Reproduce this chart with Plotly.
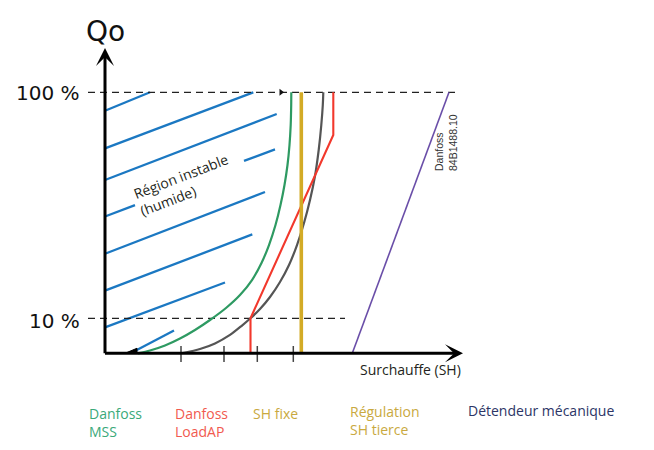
import math
import plotly.graph_objects as go

# ---------------- data ----------------
# x = superheat (SH, schematic units), y = Qo in % (log axis)
hatch_sh = [[0, 45], [0, 148.3], [0, 171.7], [139, 170], [0, 30],
            [0, 160], [0, 147.3], [0, 120], [28, 69]]
hatch_q = [[82.9, 100], [56.5, 100], [40.9, 80.2], [49.7, 55.9], [28.2, 31.7],
           [19.3, 36.2], [13.25, 23.5], [9.12, 14.4], [7.10, 8.83]]

mss_sh = [33, 45, 60, 75, 90, 105, 121, 135, 147, 156.5, 164, 170.5, 175.5,
          179.5, 182.5, 184.5, 185.7, 186.2, 186.3]
mss_q = [7.0, 7.2, 7.58, 8.14, 8.88, 9.83, 11.11, 12.68, 14.77, 17.57, 21.1,
         25.87, 31.72, 38.89, 47.68, 58.47, 71.68, 87.87, 100]

tierce_sh = [78, 95, 110, 125, 137, 145.5, 155, 165, 175, 184, 192, 199, 205,
             210, 213.7, 216.3, 217.8, 218.3]
tierce_q = [7.02, 7.31, 7.74, 8.44, 9.29, 10.0, 10.99, 12.42, 14.47, 17.21,
            21.1, 26.41, 33.38, 42.62, 55.55, 71.68, 87.87, 100]

loadap_sh = [145.5, 145.5, 228.3, 228.3]
loadap_q = [7.0, 10.0, 64.7, 100]

fixe_sh = [196.3, 196.3]
fixe_q = [7.0, 100]

meca_sh = [247.3, 344]
meca_q = [7.0, 100]

ref_q = [100, 10]
ref_end_sh = [352, 240]
ref_labels = ["100 %", "10 %"]

tick_sh = [76, 119, 152.3, 188.3]

legend_labels = ["Danfoss<br>MSS", "Danfoss<br>LoadAP", "SH fixe",
                 "Régulation<br>SH tierce", "Détendeur mécanique"]

# ---------------- styles ----------------
BLUE = "#1b78c2"
GREEN = "#2e9a62"
GREY = "#555555"
RED = "#f2382c"
GOLD = "#d3ab26"
PURPLE = "#6a4ea8"

fig = go.Figure()

# hatching of unstable region
for xs, ys in zip(hatch_sh, hatch_q):
    fig.add_trace(go.Scatter(x=xs, y=ys, mode="lines",
                             line=dict(color=BLUE, width=2.3), hoverinfo="skip"))

# reference dashed lines
for q, xe in zip(ref_q, ref_end_sh):
    fig.add_trace(go.Scatter(x=[-17, xe], y=[q, q], mode="lines",
                             line=dict(color="#222222", width=1.3, dash="7px,5px"),
                             hoverinfo="skip"))
fig.add_trace(go.Scatter(x=[176], y=[100], mode="markers",
                         marker=dict(symbol="triangle-right", size=6, color="#111111"),
                         hoverinfo="skip"))

fig.add_trace(go.Scatter(x=meca_sh, y=meca_q, mode="lines",
                         line=dict(color=PURPLE, width=1.6), hoverinfo="skip"))
fig.add_trace(go.Scatter(x=mss_sh, y=mss_q, mode="lines",
                         line=dict(color=GREEN, width=2.2, shape="spline", smoothing=0.8),
                         hoverinfo="skip"))
fig.add_trace(go.Scatter(x=tierce_sh, y=tierce_q, mode="lines",
                         line=dict(color=GREY, width=2.2, shape="spline", smoothing=0.8),
                         hoverinfo="skip"))
fig.add_trace(go.Scatter(x=loadap_sh, y=loadap_q, mode="lines",
                         line=dict(color=RED, width=2.1), hoverinfo="skip"))
fig.add_trace(go.Scatter(x=fixe_sh, y=fixe_q, mode="lines",
                         line=dict(color=GOLD, width=3.6), hoverinfo="skip"))

# tick marks on the SH axis
tx, ty = [], []
for t in tick_sh:
    tx += [t, t, None]
    ty += [6.41, 7.54, None]
fig.add_trace(go.Scatter(x=tx, y=ty, mode="lines",
                         line=dict(color="#444444", width=1.5), hoverinfo="skip"))

# small black wedge near origin
fig.add_trace(go.Scatter(x=[20, 32, 32, 20], y=[7.0, 7.37, 7.0, 7.0], mode="lines",
                         fill="toself", fillcolor="#000000",
                         line=dict(color="#000000", width=1), hoverinfo="skip"))

L = math.log10
ann = []
# axes arrows
ann.append(dict(x=358, y=L(7.0), ax=-1.5, ay=L(7.0), xref="x", yref="y",
                axref="x", ayref="y", text="", showarrow=True, arrowhead=3,
                arrowsize=1, arrowwidth=3, arrowcolor="#000000", standoff=0))
ann.append(dict(x=0, y=L(157), ax=0, ay=L(6.9), xref="x", yref="y",
                axref="x", ayref="y", text="", showarrow=True, arrowhead=3,
                arrowsize=1, arrowwidth=3, arrowcolor="#000000", standoff=0))

W, H = 654, 450


def px(xp, yp):
    return xp / W, 1 - yp / H


x, y = px(105, 31)
ann.append(dict(x=x, y=y, xref="paper", yref="paper", text="Qo", showarrow=False,
                font=dict(family="DejaVu Sans", size=28, color="#111111"),
                xanchor="center", yanchor="middle"))
for lab, yp in zip(ref_labels, [93, 321]):
    x, y = px(82, yp)
    ann.append(dict(x=x, y=y, xref="paper", yref="paper", text=lab, showarrow=False,
                    font=dict(family="DejaVu Sans", size=20, color="#111111"),
                    xanchor="right", yanchor="middle"))

x, y = px(184.5, 184)
ann.append(dict(x=x, y=y, xref="paper", yref="paper",
                text="Région instable<br>(humide)", showarrow=False, align="left",
                textangle=-21, font=dict(family="Open Sans", size=14, color="#231f20"),
                xanchor="center", yanchor="middle"))

x, y = px(445.5, 142.5)
ann.append(dict(x=x, y=y, xref="paper", yref="paper",
                text="Danfoss<br>84B1488.10", showarrow=False, align="left",
                textangle=-90,
                font=dict(family="Liberation Sans Narrow, Liberation Sans", size=10.5,
                          color="#333333"),
                xanchor="center", yanchor="middle"))

x, y = px(410.5, 369)
ann.append(dict(x=x, y=y, xref="paper", yref="paper", text="Surchauffe (SH)",
                showarrow=False, font=dict(family="Open Sans", size=14, color="#231f20"),
                xanchor="center", yanchor="middle"))

leg_colors = ["#3aa97a", "#f15a50", "#c9a940", "#c9a940", "#2c3566"]
leg_x = [87, 173, 251, 348, 466]
leg_y = [422, 422, 413, 420, 410]
for lab, c, xp, yp in zip(legend_labels, leg_colors, leg_x, leg_y):
    x, y = px(xp, yp)
    ann.append(dict(x=x, y=y, xref="paper", yref="paper", text=lab, showarrow=False,
                    align="left", font=dict(family="Open Sans", size=14, color=c),
                    xanchor="left", yanchor="middle"))

fig.update_layout(
    width=W, height=H,
    margin=dict(l=0, r=0, t=0, b=0),
    paper_bgcolor="white", plot_bgcolor="white",
    showlegend=False,
    xaxis=dict(range=[-105, 549], visible=False, fixedrange=True),
    yaxis=dict(type="log", range=[0.41726, 2.40841], visible=False, fixedrange=True),
    annotations=ann,
)

fig.write_html("out.html", config={"displayModeBar": False},
               post_script="document.body.style.margin='0';")
